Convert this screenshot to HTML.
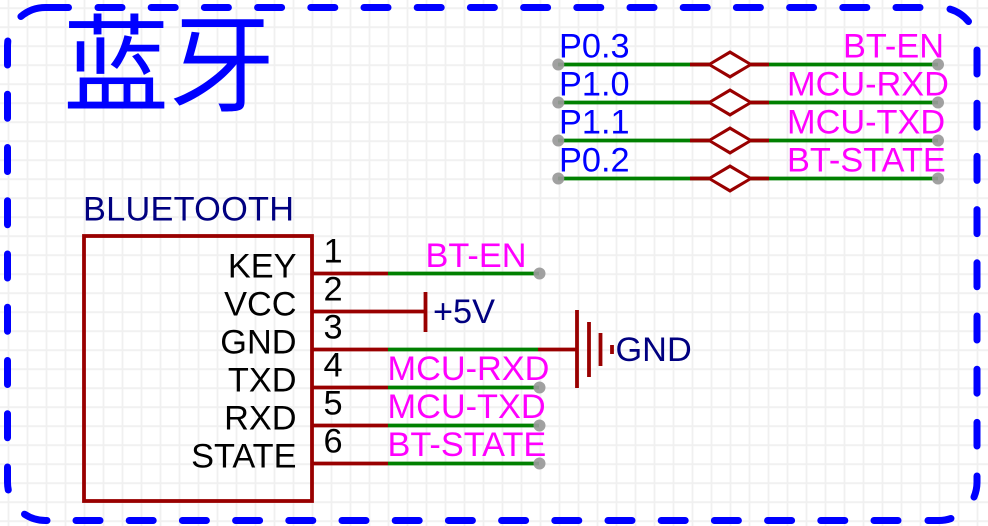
<!DOCTYPE html>
<html><head><meta charset="utf-8"><style>
html,body{margin:0;padding:0;background:#fff}
svg{display:block}
text{font-family:"Liberation Sans",Arial,sans-serif;font-size:34.3px}
.m{fill:#ff00ff}.b{fill:#0000ff}.n{fill:#000080}.k{fill:#000}
.r{stroke:#990000;stroke-width:3.8;fill:none}
.g{stroke:#008000;stroke-width:3.8;fill:none}
.d{fill:#999;fill-opacity:.92}
.bd{stroke:#0000ff;stroke-width:7;stroke-linecap:round;fill:none}
</style></head><body>
<svg width="988" height="526" viewBox="0 0 988 526" xmlns="http://www.w3.org/2000/svg">
<defs><pattern id="p" x="-1" y="-1.3" width="19" height="19" patternUnits="userSpaceOnUse"><path d="M0 9.5H19M9.5 0V19" stroke="#f0f0f0" stroke-width="1.8" fill="none"/></pattern></defs>
<rect width="988" height="526" fill="#fff"/>
<rect width="988" height="526" fill="url(#p)"/>

<!-- dashed border -->
<g class="bd">
<path d="M98 7.5H920" stroke-dasharray="24 29.2"/>
<path d="M7.5 94.25V438" stroke-dasharray="24 29.25"/>
<path d="M977 50V446" stroke-dasharray="24 29.2"/>
<path d="M76 520.5H900" stroke-dasharray="24 29.2"/>
<path d="M20.9 16.5A38 38 0 0 1 45.5 7.5H68.5"/>
<path d="M950 9.1A38 38 0 0 1 968.5 21.5"/>
<path d="M977 476V482.5A38 38 0 0 1 974 497"/>
<path d="M928 520.5H939A38 38 0 0 0 951 518.5"/>
<path d="M47 520.5H45.5A38 38 0 0 1 24.5 514.2"/>
<path d="M7.5 467V482.5A38 38 0 0 0 8.3 490"/>
<path d="M7.8 41L7.5 45.5V65"/>
</g>

<text x="63" y="103" style="font-family:'Liberation Sans','Noto Sans CJK SC',sans-serif;font-size:106px" class="b">蓝牙</text>

<!-- net table -->
<g class="g">
<path d="M558 64.500H938M558 102.500H938M558 140.500H938M558 178.500H938"/>
</g>
<g class="r">
<path d="M690 64.500H710M750 64.500H769M710 64.500L730 52.500L750 64.500L730 76.500Z"/>
<path d="M690 102.500H710M750 102.500H769M710 102.500L730 90.500L750 102.500L730 114.500Z"/>
<path d="M690 140.500H710M750 140.500H769M710 140.500L730 128.500L750 140.500L730 152.500Z"/>
<path d="M690 178.500H710M750 178.500H769M710 178.500L730 166.500L750 178.500L730 190.500Z"/>
</g>
<path d="M712 64.500L730 54L748 64.500L730 75ZM712 102.500L730 92L748 102.500L730 113ZM712 140.500L730 130L748 140.500L730 151ZM712 178.500L730 168L748 178.500L730 189Z" fill="#fff"/>
<g class="d">
<circle cx="558.300" cy="64.500" r="6"/><circle cx="558.300" cy="102.500" r="6"/><circle cx="558.300" cy="140.500" r="6"/><circle cx="558.300" cy="178.500" r="6"/>
<circle cx="938" cy="64.500" r="6"/><circle cx="938" cy="102.500" r="6"/><circle cx="938" cy="140.500" r="6"/><circle cx="938" cy="178.500" r="6"/>
</g>
<text x="559" y="57.500" class="b">P0.3</text>
<text x="559" y="95.500" class="b">P1.0</text>
<text x="559" y="133.500" class="b">P1.1</text>
<text x="559" y="171.500" class="b">P0.2</text>
<text x="843" y="57.500" class="m">BT-EN</text>
<text x="787" y="95.500" class="m">MCU-RXD</text>
<text x="787" y="133.500" class="m">MCU-TXD</text>
<text x="787" y="171.500" class="m">BT-STATE</text>

<!-- component -->
<text x="83" y="220.500" class="n" textLength="211" lengthAdjust="spacing">BLUETOOTH</text>
<rect x="84" y="236" width="228" height="265" class="r"/>
<g class="r">
<path d="M312 273.500H388M312 311.500H425M312 349.500H388M312 387.500H388M312 425.500H388M312 463.500H388M538 349.500H577"/>
<path d="M425.500 292V332M577 310V388M589 322V377M600.500 333V366"/>
<path d="M612 345V354"/>
</g>
<g class="g">
<path d="M388 273.500H539M388 349.500H538M388 387.500H539M388 425.500H539M388 463.500H539"/>
</g>
<g class="d">
<circle cx="539.500" cy="273.500" r="6"/><circle cx="539.500" cy="387.500" r="6"/><circle cx="539.500" cy="425.500" r="6"/><circle cx="539.500" cy="463.500" r="6"/>
</g>
<g class="k" text-anchor="end">
<text x="296.500" y="277.500">KEY</text>
<text x="296.500" y="315.500">VCC</text>
<text x="296.500" y="353.500">GND</text>
<text x="296.500" y="391.500">TXD</text>
<text x="296.500" y="429.500">RXD</text>
<text x="296.500" y="467.500">STATE</text>
</g>
<g class="k">
<text x="323.500" y="262.500">1</text>
<text x="323.500" y="300.500">2</text>
<text x="323.500" y="338.500">3</text>
<text x="323.500" y="376.500">4</text>
<text x="323.500" y="414.500">5</text>
<text x="323.500" y="452.500">6</text>
</g>
<text x="425.500" y="267" class="m">BT-EN</text>
<text x="387.500" y="380" class="m">MCU-RXD</text>
<text x="387.500" y="418" class="m">MCU-TXD</text>
<text x="387.500" y="456" class="m">BT-STATE</text>
<text x="433" y="323" class="n">+5V</text>
<text x="615.500" y="361" class="n">GND</text>
</svg>
</body></html>
